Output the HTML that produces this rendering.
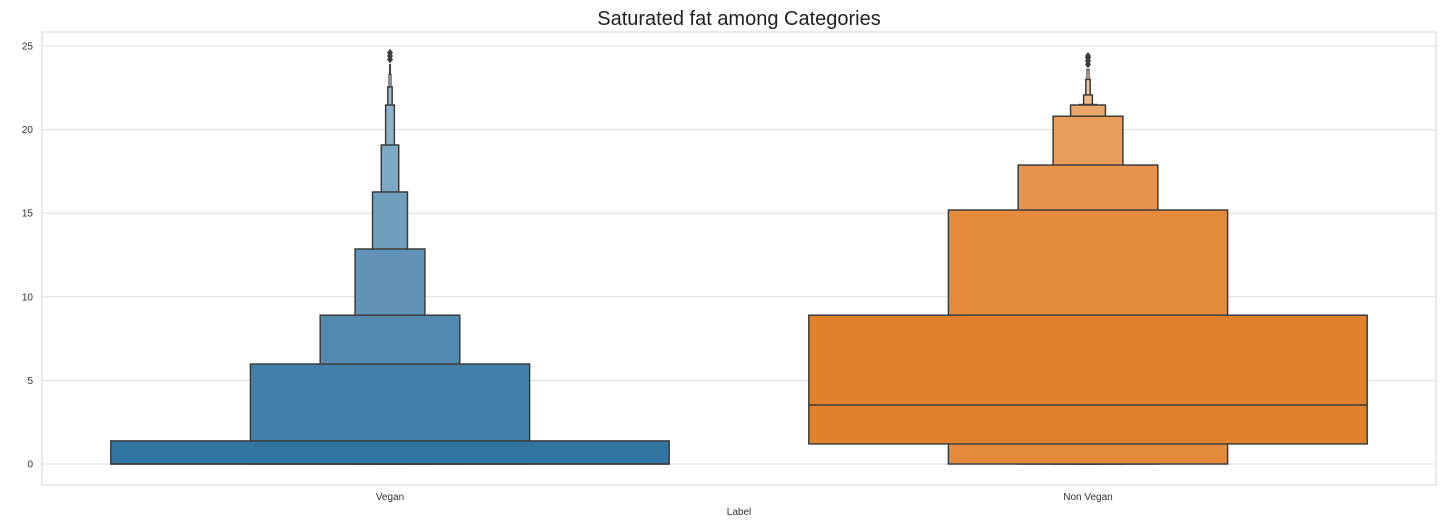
<!DOCTYPE html>
<html><head><meta charset="utf-8"><style>
body{margin:0;background:#fff;}
svg text{font-family:"Liberation Sans",sans-serif;}
</style></head><body>
<svg id="chart" width="1453" height="525">
<rect x="42" y="32" width="1394" height="453" fill="#fff" stroke="#d6d6d6"/>
<g id="grid"></g>
<g id="boxes"></g>
<text x="739" y="25" text-anchor="middle" font-size="20" fill="#222">Saturated fat among Categories</text>
<text x="739" y="515" text-anchor="middle" font-size="10" fill="#333">Label</text>
</svg>
<script>
const categories=["Vegan","Non Vegan"];
const yTicks=[0,5,10,15,20,25];
// letter-value levels: [lower, upper] per level (widest first)
const veganLower=[0,0,0,0,0,0,0,0,0,0];
const veganUpper=[1.38,5.98,8.9,12.86,16.27,19.08,21.47,22.55,23.3,23.9];
const veganMedian=0;
const veganOutliers=[24.2,24.4,24.6];
const nonVeganLower=[1.2,0,0,0,0,0,0,0,0];
const nonVeganUpper=[8.9,15.19,17.88,20.8,21.47,21.5,22.07,23.0,23.6];
const nonVeganMedian=3.53;
const nonVeganOutliers=[23.9,24.1,24.3,24.4];
const baseColors=["#3274a1","#e1812c"];

const svg=document.getElementById('chart');
const NS="http://www.w3.org/2000/svg";
const y=v=>464-v*16.72;
const xc=i=>390+i*698;
const band=698;
function mk(t,a,p){const e=document.createElementNS(NS,t);for(const k in a)e.setAttribute(k,a[k]);p.appendChild(e);return e;}
const grid=document.getElementById('grid');
yTicks.forEach(t=>{
  const l=mk('line',{x1:42,x2:1436,y1:y(t),y2:y(t),stroke:'#dcdcdc','stroke-width':1},grid);
  
  
  const tx=mk('text',{x:33,y:y(t)+3.5,'text-anchor':'end','font-size':10,fill:'#333'},grid);
  tx.textContent=t;
  
  
});
categories.forEach((c,i)=>{
  const tx=mk('text',{x:xc(i),y:500,'text-anchor':'middle','font-size':10,fill:'#333'},grid);
  tx.textContent=c;
  
  
});
function blend(hex,f){const n=parseInt(hex.slice(1),16);const r=n>>16,g=(n>>8)&255,b=n&255;
  const m=v=>Math.round(v+(255-v)*f);return `rgb(${m(r)},${m(g)},${m(b)})`;}
const g=document.getElementById('boxes');
function drawCat(i,lower,upper,med,outs){
  const n=lower.length;
  for(let k=n-1;k>=0;k--){
    const w=band*0.8/Math.pow(2,k);
    const r=mk('rect',{x:xc(i)-w/2,y:y(upper[k]),width:w,height:y(lower[k])-y(upper[k]),
      fill:blend(baseColors[i],Math.min(k*0.075,0.6)),stroke:'#3d3d3d','stroke-width':w<3?1:1.5},g);
    
    
  }
  const w0=band*0.8;
  const m=mk('line',{x1:xc(i)-w0/2,x2:xc(i)+w0/2,y1:y(med),y2:y(med),stroke:'#3d3d3d','stroke-width':1.5},g);
  
  
  outs.forEach(o=>{
    const cx=xc(i),cy=y(o);
    const d=mk('path',{d:`M${cx} ${cy-4}L${cx+3} ${cy}L${cx} ${cy+4}L${cx-3} ${cy}Z`,fill:'#3d3d3d'},g);
    
    
  });
}
drawCat(0,veganLower,veganUpper,veganMedian,veganOutliers);
drawCat(1,nonVeganLower,nonVeganUpper,nonVeganMedian,nonVeganOutliers);
</script>
</body></html>
